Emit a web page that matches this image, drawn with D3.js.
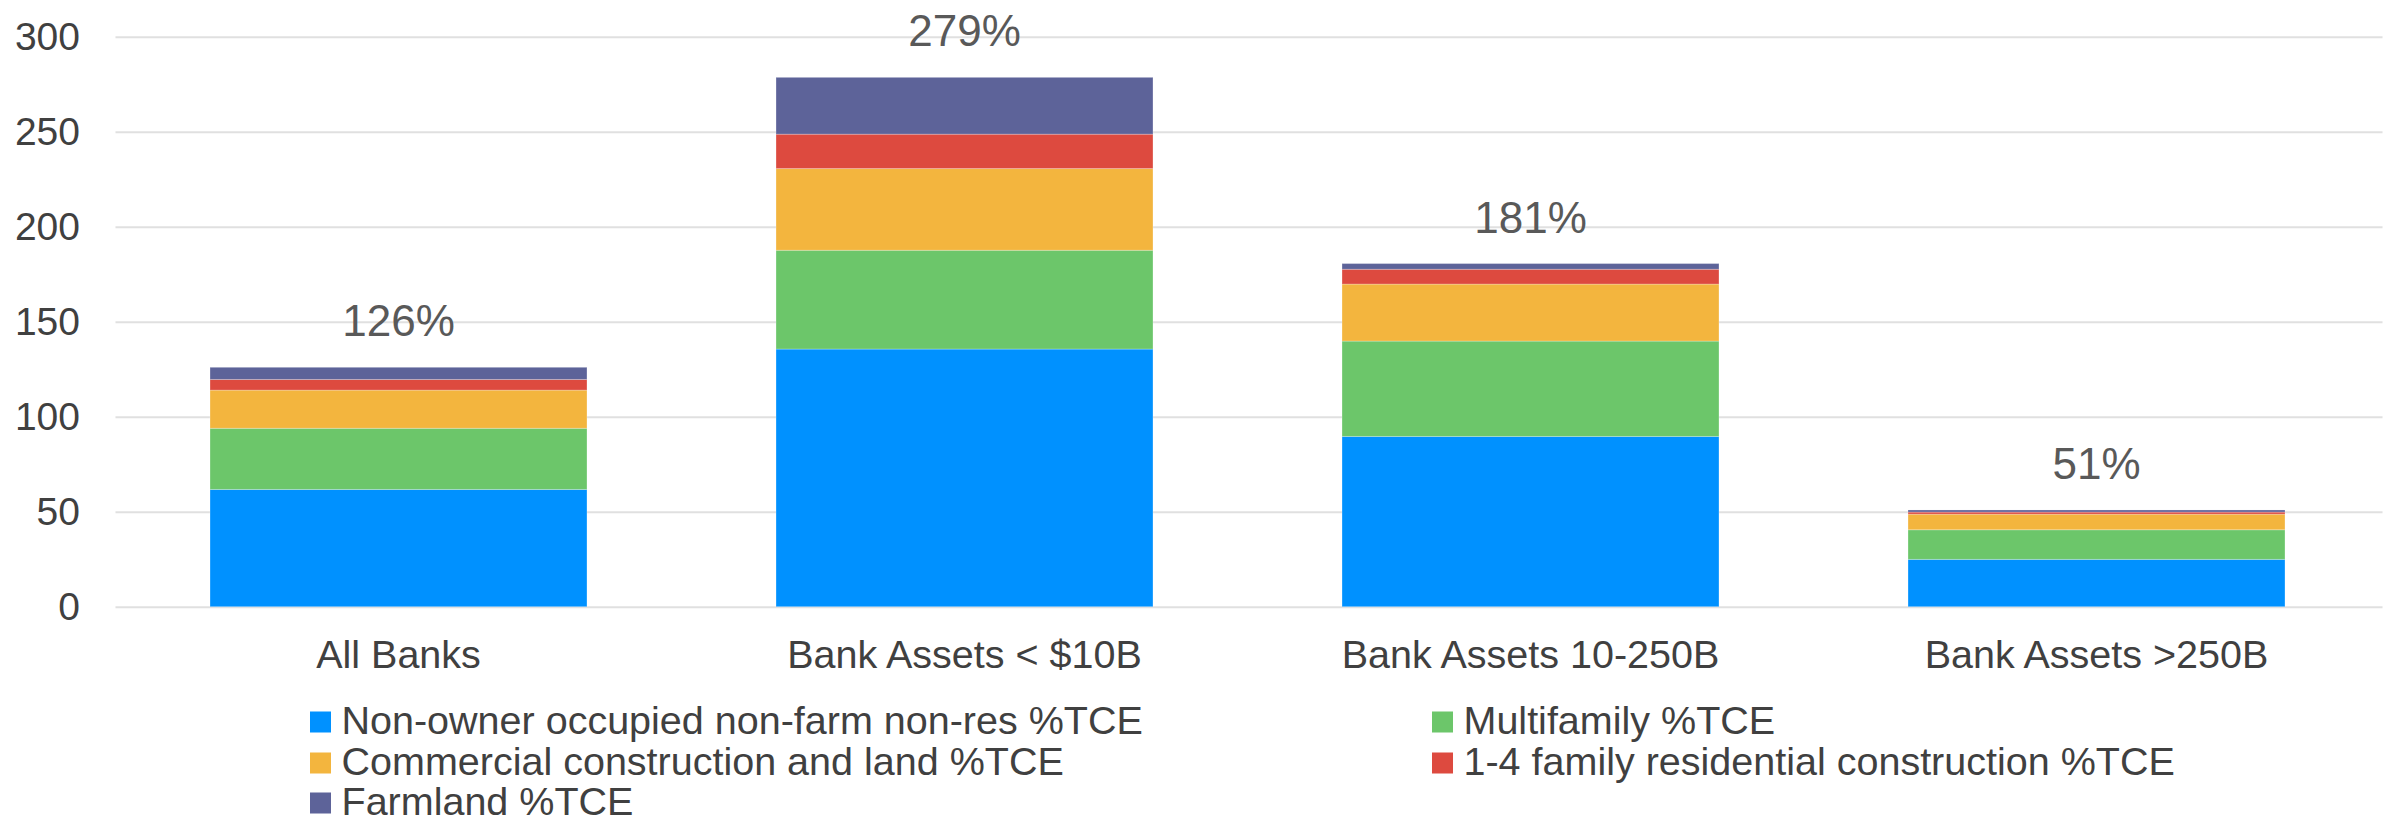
<!DOCTYPE html>
<html>
<head>
<meta charset="utf-8">
<script src="https://cdn.jsdelivr.net/npm/d3@7"></script>
<style>
  body { margin: 0; background: #fff; }
  svg text { font-family: "Liberation Sans", Arial, sans-serif; }
</style>
</head>
<body>
<div class="barChart"></div>
<script>
// categories and stacked series (% of tangible common equity)
let categories = ["All Banks", "Bank Assets < $10B", "Bank Assets 10-250B", "Bank Assets >250B"]
let nonOwner    = [61.7, 135.6, 89.6, 24.9]
let multifamily = [32.2, 52.0, 50.2, 15.6]
let commercial  = [20.1, 43.0, 30.0, 8.2]
let oneToFour   = [5.6, 18.1, 7.8, 1.1]
let farmland    = [6.4, 29.9, 3.0, 1.1]
let seriesNames = ["Non-owner occupied non-farm non-res %TCE", "Multifamily %TCE",
                   "Commercial construction and land %TCE", "1-4 family residential construction %TCE",
                   "Farmland %TCE"]
let yTicks = [0, 50, 100, 150, 200, 250, 300]

let colors = ["#0091ff", "#6cc66a", "#f3b53e", "#dd4a3f", "#5d6399"]
let keys = ["nonOwner", "multifamily", "commercial", "oneToFour", "farmland"]

let rows = categories.map((c, i) => ({
    cat: c,
    nonOwner: nonOwner[i],
    multifamily: multifamily[i],
    commercial: commercial[i],
    oneToFour: oneToFour[i],
    farmland: farmland[i]
}))

let svg = d3.select(".barChart")
            .append("svg")
            .attr("width", 2387)
            .attr("height", 823)

let x_scale = d3.scaleBand()
                .domain(categories)
                .range([115.5, 2379.5])
                .paddingInner(0.334)
                .paddingOuter(0.167)
let y_scale = d3.scaleLinear()
                .domain([0, 300])
                .range([606.7, 36.7])

// gridlines
svg.append("g")
   .attr("transform", "translate(115.5,0)")
   .call(d3.axisLeft(y_scale).tickValues(yTicks).tickSize(-2267).tickFormat(""))
   .call(g => g.select(".domain").remove())
   .selectAll("line")
   .attr("stroke", "#e0e0e0")
   .attr("stroke-width", 2)

// y axis labels
let y_axis = d3.axisLeft(y_scale)
               .tickValues(yTicks)
               .tickSize(0)
               .tickPadding(35.5)
svg.append("g")
   .attr("transform", "translate(115.5,0)")
   .call(y_axis)
   .call(g => g.select(".domain").remove())
   .selectAll("text")
   .attr("font-size", 39)
   .attr("fill", "#404040")

// stacked bars
let stacked = d3.stack().keys(keys)(rows)
svg.append("g")
   .selectAll("g")
   .data(stacked)
   .join("g")
   .attr("fill", (d, i) => colors[i])
   .selectAll("rect")
   .data(d => d)
   .join("rect")
   .attr("x", d => x_scale(d.data.cat))
   .attr("width", x_scale.bandwidth())
   .attr("y", d => y_scale(d[1]))
   .attr("height", d => y_scale(d[0]) - y_scale(d[1]))
   .attr("stroke", "#fff")
   .attr("stroke-opacity", 0.25)
   .attr("stroke-width", 1)

// total labels
let totals = rows.map(r => keys.reduce((s, k) => s + r[k], 0))
svg.append("g")
   .selectAll("text")
   .data(totals)
   .join("text")
   .attr("x", (d, i) => x_scale(categories[i]) + x_scale.bandwidth() / 2)
   .attr("y", d => y_scale(d) - 31)
   .attr("text-anchor", "middle")
   .attr("font-size", 44)
   .attr("fill", "#595959")
   .text(d => Math.round(d) + "%")

// category axis
let x_axis = d3.axisBottom(x_scale)
               .tickSize(0)
               .tickPadding(33)
svg.append("g")
   .attr("transform", "translate(0,606.7)")
   .call(x_axis)
   .call(g => g.select(".domain").remove())
   .selectAll("text")
   .attr("font-size", 39.5)
   .attr("fill", "#404040")

// legend, two columns filled row by row
let legendCols = [310, 1432]
let legendRows = [711.5, 752.5, 792.5]
let legend = svg.append("g")
                .selectAll("g")
                .data(seriesNames)
                .join("g")
                .attr("transform", (d, i) => "translate(" + legendCols[i % 2] + "," + legendRows[Math.floor(i / 2)] + ")")
legend.append("rect")
      .attr("width", 21)
      .attr("height", 21)
      .attr("fill", (d, i) => colors[i])
legend.append("text")
      .attr("x", 31.5)
      .attr("y", 22)
      .attr("font-size", 39.5)
      .attr("fill", "#404040")
      .text(d => d)
</script>
</body>
</html>
